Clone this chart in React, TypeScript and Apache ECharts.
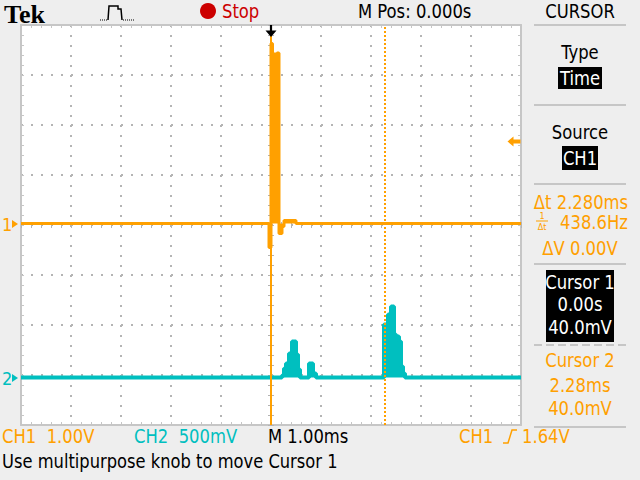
import React, { useEffect, useRef } from "react";
import * as echarts from "echarts";

// ---- data (time in ms, volts); each value holds until the next time ----
const ch1Time = [-5, -0.04, 0, 0.03, 0.12, 0.16, 0.22, 0.26, 0.5, 0.54, 5];
const ch1Volts = [0, -0.48, 3.6, 3.39, 3.41, -0.2, -0.06, 0.06, 0, 0, 0];
const ch2Time = [-5, 0.22, 0.26, 0.3, 0.34, 0.36, 0.42, 0.5, 0.54, 0.58, 0.76, 0.84, 0.9, 2.26, 2.34, 2.4, 2.46, 2.5, 2.56, 2.6, 2.64, 2.68, 2.72, 5];
const ch2Volts = [0, 0.02, 0.09, 0.14, 0.09, 0.24, 0.36, 0.23, 0.08, 0, 0.14, 0.04, 0, 0.53, 0.63, 0.71, 0.43, 0.41, 0.36, 0.11, 0.04, 0, 0, 0];
const ch1VoltsPerDiv = 1.0;
const ch2VoltsPerDiv = 0.5;
const ch1OffsetDiv = 0.03;
const ch2OffsetDiv = -3.05;
const cursorTimes = [0, 2.28];
const triggerLevelV = 1.64;
const timeMin = -5;
const timeMax = 5;
const divMin = -4;
const divMax = 4;

const ORANGE = "#ffa000";
const TEAL = "#00bfbf";
const RED = "#cc0000";
const BORDER = "#c6c6c6";
const DOT = "#b4b4b4";
const BG = "#eeeeee";
const FONT = "'Liberation Sans Narrow', 'DejaVu Sans Condensed', 'Arial Narrow', sans-serif";

const G = { left: 21, top: 25, width: 500, height: 400 };

function txt(x: number, y: number, text: string, fill: string, size = 19, align = "left", sx = 0.96) {
  return {
    type: "text",
    x,
    y,
    scaleX: sx,
    silent: true,
    style: { text, fill, font: `${size}px ${FONT}`, textAlign: align, textVerticalAlign: "middle" },
  };
}
function sep(y: number, dashed = false) {
  return {
    type: "line",
    silent: true,
    shape: { x1: 534, y1: y, x2: 626, y2: y },
    style: { stroke: BORDER, lineWidth: 2, lineDash: dashed ? [8, 4] : null },
  };
}

// filled envelope of a stepped trace, drawn through the axes (api.coord)
function envelopeRenderer(data: number[][], base: number, color: string) {
  return (params: any, api: any) => {
    if (params.dataIndex !== 0) return null;
    const pts: number[][] = [];
    for (let i = 0; i < data.length; i++) {
      const t = data[i][0];
      const v = data[i][1];
      const tNext = i + 1 < data.length ? data[i + 1][0] : t;
      pts.push(api.coord([t, v]), api.coord([tNext, v]));
    }
    pts.push(api.coord([data[data.length - 1][0], base]), api.coord([data[0][0], base]));
    return { type: "polygon", shape: { points: pts }, style: { fill: color, stroke: null }, silent: true };
  };
}

export default function App() {
  const ref = useRef<HTMLDivElement>(null);
  useEffect(() => {
    if (!ref.current) return;
    const chart = echarts.init(ref.current, null, { renderer: "svg" });
    const ch1Data = ch1Time.map((t, i) => [t, ch1Volts[i] / ch1VoltsPerDiv + ch1OffsetDiv]);
    const ch2Data = ch2Time.map((t, i) => [t, ch2Volts[i] / ch2VoltsPerDiv + ch2OffsetDiv]);
    const trigDiv = triggerLevelV / ch1VoltsPerDiv + ch1OffsetDiv;

    const borderAxis = (pos: string, grid: number, split: boolean, kind: "x" | "y") => ({
      type: "value",
      gridIndex: grid,
      position: pos,
      min: kind === "x" ? timeMin : divMin,
      max: kind === "x" ? timeMax : divMax,
      interval: 1,
      axisLine: { show: true, onZero: false, lineStyle: { color: BORDER, width: 2 } },
      axisTick: { show: true, inside: true, length: 3, lineStyle: { color: BORDER, width: 1 } },
      minorTick: { show: true, splitNumber: 5, length: 3, lineStyle: { color: BORDER, width: 1 } },
      axisLabel: { show: false },
      splitLine: { show: split, lineStyle: { color: DOT, width: 2, type: [2, 8], dashOffset: 0 } },
    });
    const centerAxis = (pos: string, kind: "x" | "y", other: number) => ({
      type: "value",
      gridIndex: 1,
      position: pos,
      min: kind === "x" ? timeMin : divMin,
      max: kind === "x" ? timeMax : divMax,
      interval: 1,
      axisLine: { show: false, onZero: true, onZeroAxisIndex: other },
      axisTick: { show: true, inside: false, length: 3, lineStyle: { color: DOT, width: 1 } },
      minorTick: { show: true, splitNumber: 5, length: 3, lineStyle: { color: DOT, width: 1 } },
      axisLabel: { show: false },
      splitLine: { show: false },
    });

    const option: any = {
      animation: false,
      backgroundColor: BG,
      grid: [
        { ...G, show: true, backgroundColor: "#ffffff", borderWidth: 0 },
        { ...G, show: false },
      ],
      xAxis: [
        borderAxis("bottom", 0, true, "x"),
        borderAxis("top", 0, false, "x"),
        centerAxis("bottom", "x", 2),
        centerAxis("top", "x", 2),
      ],
      yAxis: [
        borderAxis("left", 0, true, "y"),
        borderAxis("right", 0, false, "y"),
        centerAxis("left", "y", 2),
        centerAxis("right", "y", 2),
      ],
      series: [
        {
          name: "CH2 fill",
          type: "custom",
          xAxisIndex: 0,
          yAxisIndex: 0,
          data: [ch2Data[0]],
          silent: true,
          z: 3,
          clip: true,
          renderItem: envelopeRenderer(ch2Data, ch2OffsetDiv, TEAL),
        },
        {
          name: "CH2",
          type: "line",
          xAxisIndex: 0,
          yAxisIndex: 0,
          data: ch2Data,
          step: "end",
          symbol: "none",
          silent: true,
          z: 3,
          lineStyle: { color: TEAL, width: 4 },
        },
        {
          name: "CH1",
          type: "line",
          xAxisIndex: 0,
          yAxisIndex: 0,
          data: ch1Data,
          step: "end",
          symbol: "none",
          silent: true,
          z: 4,
          lineStyle: { color: ORANGE, width: 3 },
        },
        {
          name: "CH1 fill",
          type: "custom",
          xAxisIndex: 0,
          yAxisIndex: 0,
          data: [ch1Data[0]],
          silent: true,
          z: 10,
          clip: false,
          renderItem: envelopeRenderer(ch1Data, ch1OffsetDiv, ORANGE),
        },
        {
          name: "cursors",
          type: "line",
          xAxisIndex: 0,
          yAxisIndex: 0,
          data: [],
          silent: true,
          z: 5,
          markLine: {
            silent: true,
            symbol: ["none", "none"],
            label: { show: false },
            animation: false,
            data: [
              { xAxis: cursorTimes[0], lineStyle: { color: ORANGE, width: 2, type: "solid" } },
              { xAxis: cursorTimes[1], lineStyle: { color: ORANGE, width: 2, type: [2, 2] } },
            ],
          },
          markPoint: {
            silent: true,
            animation: false,
            label: { show: false },
            data: [
              {
                coord: [4.86, trigDiv],
                symbol: "path://M0,5 L6,0 L6,3 L13,3 L13,7 L6,7 L6,10 Z",
                symbolSize: [13, 10],
                itemStyle: { color: ORANGE },
              },
              {
                coord: [0, divMax],
                symbol: "path://M4,0 L6,0 L6,5 L10,5 L5,11 L0,5 L4,5 Z",
                symbolSize: [11, 12],
                symbolOffset: [0, 6],
                itemStyle: { color: "#000000" },
              },
            ],
          },
        },
      ],
      graphic: [
        // header
        { type: "text", x: 4, y: 14, silent: true, style: { text: "Tek", fill: "#000", font: "bold 26px 'Liberation Serif', serif", textVerticalAlign: "middle" } },
        { type: "polyline", silent: true, shape: { points: [[100, 20], [107, 20]] }, style: { stroke: "#000", lineWidth: 1, lineDash: [1, 1], fill: null } },
        { type: "polyline", silent: true, shape: { points: [[108, 20], [109, 6], [118, 6], [118, 9], [121, 9], [122, 20]] }, style: { stroke: "#000", lineWidth: 1.5, fill: null } },
        { type: "polyline", silent: true, shape: { points: [[123, 20], [135, 20]] }, style: { stroke: "#000", lineWidth: 1, lineDash: [1, 1], fill: null } },
        { type: "circle", silent: true, shape: { cx: 208, cy: 11, r: 8 }, style: { fill: RED } },
        txt(222, 11, "Stop", RED, 19),
        txt(358, 11, "M Pos: 0.000s", "#000", 19),
        txt(580, 11, "CURSOR", "#000", 19, "center"),
        // right panel
        sep(25),
        txt(580, 52, "Type", "#000", 19, "center"),
        { type: "rect", silent: true, shape: { x: 558, y: 67, width: 44, height: 22 }, style: { fill: "#000" } },
        txt(580, 78, "Time", "#fff", 19, "center"),
        sep(105),
        txt(580, 132, "Source", "#000", 19, "center"),
        { type: "rect", silent: true, shape: { x: 562, y: 146, width: 36, height: 24 }, style: { fill: "#000" } },
        txt(580, 158, "CH1", "#fff", 19, "center"),
        sep(184),
        txt(581, 202, "Δt 2.280ms", ORANGE, 19, "center"),
        txt(542, 216, "1", ORANGE, 9, "center", 1),
        { type: "line", silent: true, shape: { x1: 536, y1: 221, x2: 548, y2: 221 }, style: { stroke: ORANGE, lineWidth: 1 } },
        txt(542, 227, "Δt", ORANGE, 9, "center", 1),
        txt(594, 222, "438.6Hz", ORANGE, 19, "center"),
        txt(580, 248, "ΔV 0.00V", ORANGE, 19, "center"),
        sep(264),
        { type: "rect", silent: true, shape: { x: 546, y: 270, width: 68, height: 72 }, style: { fill: "#000" } },
        txt(580, 282, "Cursor 1", "#fff", 19, "center"),
        txt(580, 304, "0.00s", "#fff", 19, "center"),
        txt(580, 327, "40.0mV", "#fff", 19, "center"),
        sep(345, true),
        txt(580, 360, "Cursor 2", ORANGE, 19, "center"),
        txt(580, 385, "2.28ms", ORANGE, 19, "center"),
        txt(580, 408, "40.0mV", ORANGE, 19, "center"),
        sep(427),
        // channel markers
        txt(2, 224, "1", ORANGE, 18, "left", 1),
        { type: "polygon", silent: true, shape: { points: [[12, 220], [18, 224], [12, 228]] }, style: { fill: ORANGE } },
        txt(2, 378, "2", TEAL, 18, "left", 1),
        { type: "polygon", silent: true, shape: { points: [[12, 374], [18, 378], [12, 382]] }, style: { fill: TEAL } },
        // bottom status
        txt(2, 436, "CH1  1.00V", ORANGE, 19),
        txt(134, 436, "CH2  500mV", TEAL, 19),
        txt(268, 436, "M 1.00ms", "#000", 19),
        txt(459, 436, "CH1", ORANGE, 19),
        { type: "polyline", silent: true, shape: { points: [[503, 443], [508, 443], [512, 430], [517, 430]] }, style: { stroke: ORANGE, lineWidth: 1.5, fill: null } },
        txt(522, 436, "1.64V", ORANGE, 19),
        txt(2, 461, "Use multipurpose knob to move Cursor 1", "#000", 19, "left", 0.955),
      ],
    };
    chart.setOption(option);
    return () => chart.dispose();
  }, []);
  return (
    <div
      ref={ref}
      style={{ position: "fixed", left: 0, top: 0, width: 640, height: 480, background: BG }}
    />
  );
}
